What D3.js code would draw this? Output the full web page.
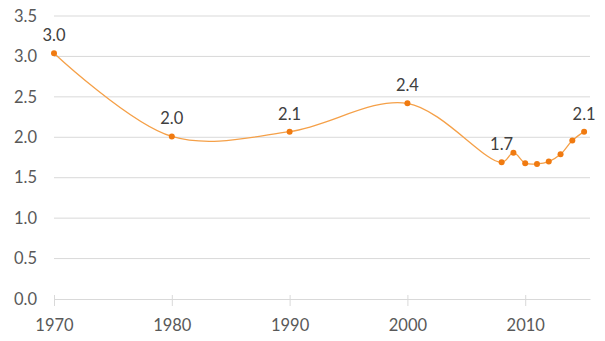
<!DOCTYPE html>
<html>
<head>
<meta charset="utf-8">
<script src="https://cdn.jsdelivr.net/npm/d3@7"></script>
<style>
  html, body { margin: 0; padding: 0; background: #fff; }
  svg { display: block; }
</style>
</head>
<body>
<svg id="chart" width="605" height="341"></svg>
<script>
// Series: year and value
const years  = [1970, 1980, 1990, 2000, 2008, 2009, 2010, 2011, 2012, 2013, 2014, 2015];
const values = [3.04, 2.01, 2.07, 2.42, 1.69, 1.81, 1.68, 1.67, 1.70, 1.79, 1.96, 2.07];
// Years whose point carries a value label
const labelledYears = [1970, 1980, 1990, 2000, 2008, 2015];
const yTicks = [0, 0.5, 1, 1.5, 2, 2.5, 3, 3.5];
const xTicks = [1970, 1980, 1990, 2000, 2010];

const data = years.map((y, i) => ({ year: y, value: values[i] }));

const svg = d3.select("#chart");
const margin = { left: 54, right: 15, top: 16, bottom: 42 };
const W = 605, H = 341;

const x = d3.scaleLinear().domain([1970, 2015.5]).range([margin.left, W - margin.right]);
const y = d3.scaleLinear().domain([0, 3.5]).range([H - margin.bottom, margin.top]);

const font = "Lato, 'Open Sans', sans-serif";
const fontSize = "16.5px";

// Horizontal gridlines
svg.append("g")
  .selectAll("line")
  .data(yTicks.filter(t => t > 0))
  .join("line")
  .attr("x1", x.range()[0]).attr("x2", x.range()[1])
  .attr("y1", d => y(d)).attr("y2", d => y(d))
  .attr("stroke", "#d9d9d9").attr("stroke-width", 1);

// Y axis labels
const yAxis = d3.axisLeft(y).tickValues(yTicks).tickFormat(d3.format(".1f")).tickSize(0).tickPadding(17);
svg.append("g")
  .attr("transform", `translate(${margin.left},0)`)
  .call(yAxis)
  .call(g => g.select(".domain").remove())
  .call(g => g.selectAll("text").attr("fill", "#595959").style("font-size", fontSize).style("font-family", font));

// X axis with baseline and tick marks crossing it
const xAxis = d3.axisBottom(x).tickValues(xTicks).tickFormat(d3.format("d")).tickSize(11).tickSizeOuter(0).tickPadding(9);
svg.append("g")
  .attr("transform", `translate(0,${y(0)})`)
  .call(xAxis)
  .call(g => g.select(".domain").attr("stroke", "#d9d9d9"))
  .call(g => g.selectAll(".tick line").attr("stroke", "#d9d9d9").attr("transform", "translate(0,-4)"))
  .call(g => g.selectAll("text").attr("fill", "#595959").style("font-size", fontSize).style("font-family", font));

// Smoothed line
const line = d3.line()
  .x(d => x(d.year))
  .y(d => y(d.value))
  .curve(d3.curveCatmullRom.alpha(0.5));

svg.append("path")
  .datum(data)
  .attr("d", line)
  .attr("fill", "none")
  .attr("stroke", "#f5a048")
  .attr("stroke-width", 1.3);

// Points
svg.append("g")
  .selectAll("circle")
  .data(data)
  .join("circle")
  .attr("cx", d => x(d.year))
  .attr("cy", d => y(d.value))
  .attr("r", 3)
  .attr("fill", "#f07a10");

// Value labels
svg.append("g")
  .selectAll("text")
  .data(data.filter(d => labelledYears.includes(d.year)))
  .join("text")
  .attr("x", d => x(d.year))
  .attr("y", d => y(d.value) - 12)
  .attr("text-anchor", "middle")
  .attr("fill", "#404040")
  .style("font-size", fontSize)
  .style("font-family", font)
  .text(d => d3.format(".1f")(d.value));
</script>
</body>
</html>
